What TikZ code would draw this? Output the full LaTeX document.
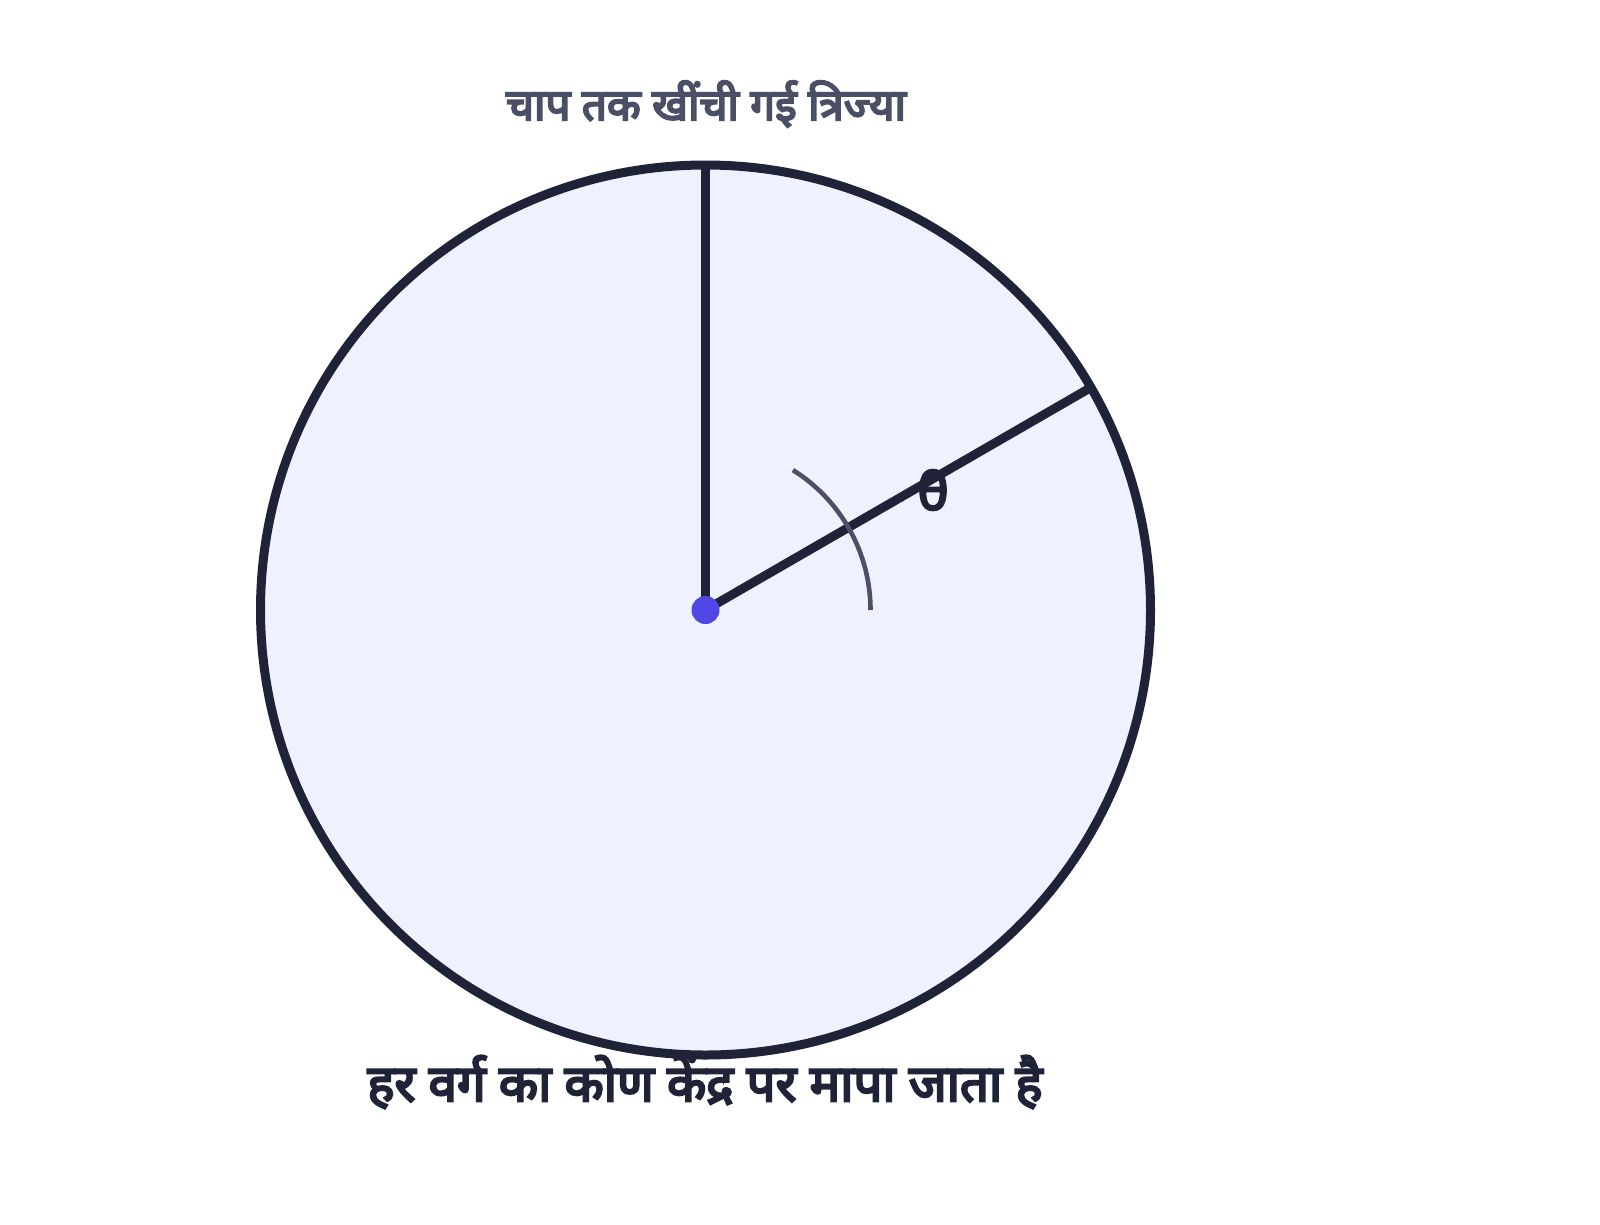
\documentclass[tikz,border=0pt]{standalone}
\usepackage{fontspec}
\usetikzlibrary{calc}
\setmainfont[AutoFakeBold=4.5]{Noto Sans}
\newfontfamily\deva[Script=Devanagari,AutoFakeBold=4.5]{Noto Sans}
\definecolor{ink}{HTML}{1E2338}
\definecolor{disk}{HTML}{EEF2FE}
\definecolor{dotc}{HTML}{4F46E5}
\definecolor{arcc}{HTML}{4B5068}
\definecolor{muted}{HTML}{4A4F66}
\tikzset{
  rim/.style={draw=ink,line width=9pt,fill=disk},
  radiusline/.style={draw=ink,line width=9pt},
  anglearc/.style={draw=arcc,line width=4.6pt},
  toplabel/.style={font=\deva\bfseries\fontsize{44}{50}\selectfont,text=muted,inner sep=0pt},
  botlabel/.style={font=\deva\bfseries\fontsize{51}{56}\selectfont,text=ink,inner sep=0pt},
  thetalabel/.style={font=\bfseries\fontsize{52}{58}\selectfont,text=ink,inner sep=0pt},
}
\begin{document}
\begin{tikzpicture}[x=1pt,y=-1pt]
\useasboundingbox (0,0) rectangle (1600,1224);
\coordinate (O) at (705.5,610);
\draw[rim] (O) circle[radius=445];
\coordinate (T) at (705.5,165);
\coordinate (P) at ($(O)+(-30:445)$);
\draw[radiusline] (O) -- (T);
\draw[radiusline] (O) -- (P);
\draw[anglearc] ($(O)+(165,0)$) arc[start angle=0,end angle=-58,radius=165];
\fill[dotc] (O) circle[radius=14];
\node[thetalabel] (th) at (933,490) {θ};
\node[toplabel] (top) at (706,104) {चाप तक खींची गई त्रिज्या};
\node[botlabel] (bot) at (705,1082) {हर वर्ग का कोण केंद्र पर मापा जाता है};
\end{tikzpicture}
\end{document}
